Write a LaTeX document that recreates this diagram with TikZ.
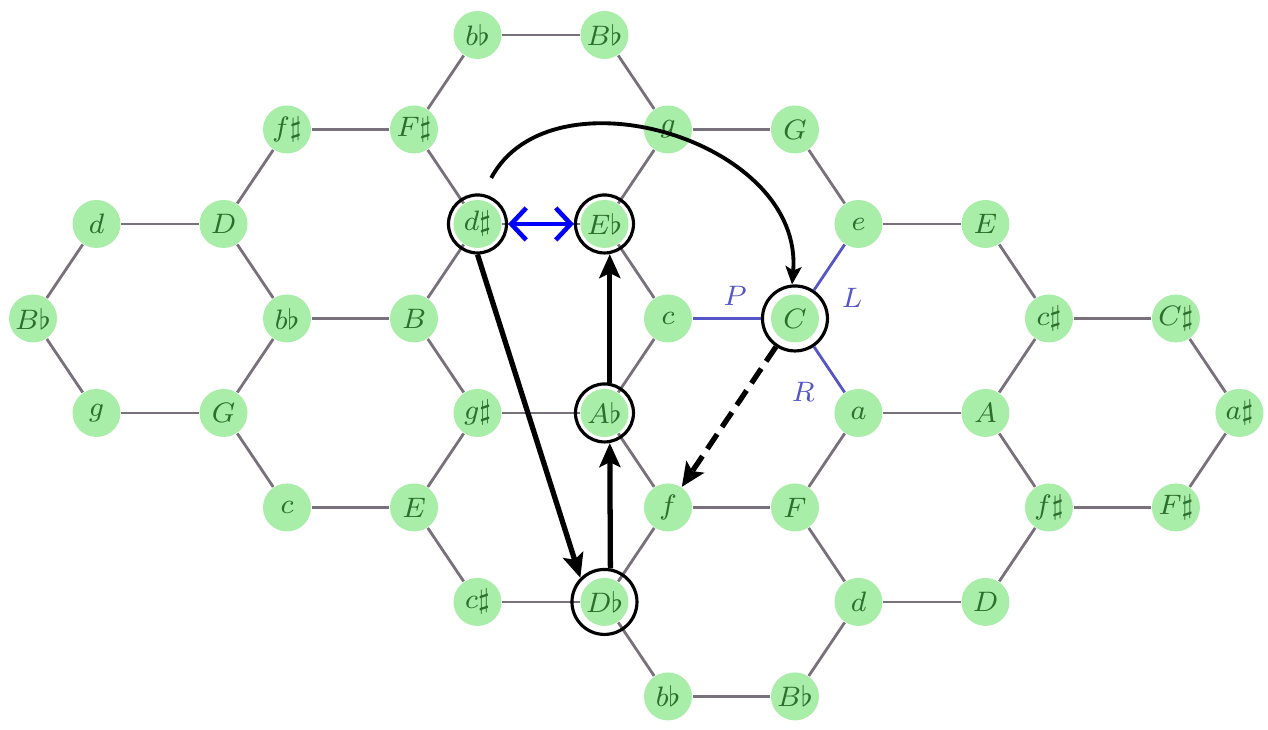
\documentclass[tikz,border=0pt]{standalone}
\usetikzlibrary{arrows.meta}

\definecolor{notefill}{RGB}{168,237,168}
\definecolor{notetext}{RGB}{45,110,45}
\definecolor{linkgray}{RGB}{120,112,122}
\definecolor{voiceblue}{RGB}{85,85,200}

\tikzset{
    note/.style={circle, fill=notefill, inner sep=0pt, minimum size=4.8mm, font=\footnotesize, text=notetext},
    ring/.style={circle, draw=black, line width=0.9pt, inner sep=0pt, minimum size=5.8mm},
    link/.style={draw=linkgray, line width=0.8pt},
    voice link/.style={draw=voiceblue, line width=0.8pt},
    voice label/.style={text=voiceblue, font=\footnotesize},
    move/.style={-{Stealth[length=2.4mm,width=2.1mm,inset=0.5mm]}, line width=1.5pt},
    hop/.style={-{Stealth[length=1.8mm,width=1.6mm,inset=0.4mm]}, line width=1.1pt, shorten <=1.8mm},
    enharmonic/.style={{Straight Barb[length=1.5mm,width=3.2mm]}-{Straight Barb[length=1.5mm,width=3.2mm]}, draw=blue, line width=1.3pt},
}

\begin{document}
\begin{tikzpicture}[x=6.35mm, y=-9.45mm]
    \useasboundingbox (-0.52,-0.37) rectangle (19.45,7.354);

    % Tonnetz vertices: column, row, pitch name
    \foreach \c/\r/\p in {7/0/b\flat, 9/0/B\flat,
        4/1/f\sharp, 6/1/F\sharp, 10/1/g, 12/1/G,
        1/2/d, 3/2/D, 7/2/d\sharp, 9/2/E\flat, 13/2/e, 15/2/E,
        0/3/B\flat, 4/3/b\flat, 6/3/B, 10/3/c, 12/3/C, 16/3/c\sharp, 18/3/C\sharp,
        1/4/g, 3/4/G, 7/4/g\sharp, 9/4/A\flat, 13/4/a, 15/4/A, 19/4/a\sharp,
        4/5/c, 6/5/E, 10/5/f, 12/5/F, 16/5/f\sharp, 18/5/F\sharp,
        7/6/c\sharp, 9/6/D\flat, 13/6/d, 15/6/D,
        10/7/b\flat, 12/7/B\flat} {
        \node[note] (n\c-\r) at (\c,\r) {$\p$};
    }

    % lattice edges
    \foreach \a/\b in {7-0/9-0, 4-1/6-1, 10-1/12-1, 1-2/3-2, 7-2/9-2, 13-2/15-2,
        4-3/6-3, 16-3/18-3, 1-4/3-4, 7-4/9-4, 13-4/15-4, 4-5/6-5, 10-5/12-5,
        16-5/18-5, 7-6/9-6, 13-6/15-6, 10-7/12-7,
        7-0/6-1, 9-0/10-1, 4-1/3-2, 6-1/7-2, 10-1/9-2, 12-1/13-2, 1-2/0-3,
        3-2/4-3, 7-2/6-3, 9-2/10-3, 15-2/16-3, 0-3/1-4, 4-3/3-4, 6-3/7-4,
        10-3/9-4, 16-3/15-4, 18-3/19-4, 3-4/4-5, 7-4/6-5, 9-4/10-5, 13-4/12-5,
        15-4/16-5, 19-4/18-5, 6-5/7-6, 10-5/9-6, 12-5/13-6, 16-5/15-6,
        9-6/10-7, 13-6/12-7} {
        \draw[link] (n\a) -- (n\b);
    }

    % highlighted chords
    \node[ring] (dsharp) at (n7-2) {};
    \node[ring] (Eflat) at (n9-2) {};
    \node[ring] (Aflat) at (n9-4) {};
    \node[ring, minimum size=6.5mm] (Dflat) at (n9-6) {};
    \node[ring, minimum size=6.5mm] (Cnat) at (n12-3) {};

    % P, L, R neighbours of C
    \draw[voice link] (n10-3) -- (Cnat);
    \draw[voice link] (Cnat) -- (n13-2);
    \draw[voice link] (Cnat) -- (n13-4);
    \node[voice label] (P) at (11.06,2.76) {$P$};
    \node[voice label] (L) at (12.9,2.78) {$L$};
    \node[voice label] (R) at (12.13,3.78) {$R$};

    % moves
    \draw[enharmonic] (dsharp) -- (Eflat);
    \draw[hop] (dsharp.80) to[out=62, in=85, looseness=1.15] (Cnat.95);
    \draw[move] (dsharp.south) -- (Dflat.north west);
    \draw[move] (Dflat.80) -- (Aflat.280);
    \draw[move] (Aflat.80) -- (Eflat.280);
    \draw[move, dash pattern=on 5pt off 2.5pt] (Cnat) -- (n10-5);
\end{tikzpicture}
\end{document}
